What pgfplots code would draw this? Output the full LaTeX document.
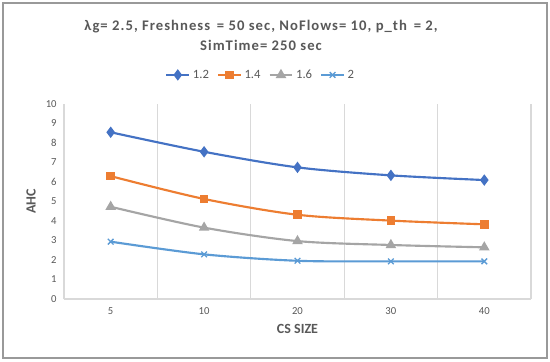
\documentclass[border=0pt]{standalone}
\usepackage{pgfplots}
\pgfplotsset{compat=1.18}
\usepackage{fontspec}
\setmainfont{Carlito}
\definecolor{cA}{HTML}{4472C4}
\definecolor{cB}{HTML}{ED7D31}
\definecolor{cC}{HTML}{A5A5A5}
\definecolor{cD}{HTML}{5B9BD5}
\definecolor{txt}{HTML}{595959}
\definecolor{gridg}{HTML}{D9D9D9}
\begin{document}
\begin{tikzpicture}
\path[use as bounding box] (-48pt,-46.5pt) rectangle (364.5pt,224.25pt);
\fill[white] (-48pt,-46.5pt) rectangle (364.5pt,224.25pt);
\begin{axis}[
  at={(0,0)}, anchor=south west,
  scale only axis, width=350.25pt, height=146.25pt,
  xmin=0.5, xmax=5.5, ymin=0, ymax=10,
  xtick={1,2,3,4,5}, xticklabels={5,10,20,30,40},
  minor xtick={0.5,1.5,2.5,3.5,4.5,5.5},
  ytick={0,1,...,10},
  minor x grid style={gridg, line width=0.8pt},
  xminorgrids=true,
  axis x line*=bottom, axis y line*=left,
  axis line style={-, gridg, line width=0.8pt},
  major tick length=0pt, minor tick length=0pt,
  tick style={draw=none},
  /pgf/number format/assume math mode=true,
  ticklabel style={font=\fontsize{8}{9}\selectfont, text=txt},
  xticklabel style={yshift=-3pt},
  yticklabel style={xshift=-2pt},
  xlabel={\textbf{CS SIZE}},
  label style={font=\fontsize{10.5}{12}\selectfont, text=txt},
  xlabel style={at={(axis description cs:0.5,-0.154)}, anchor=center},
  legend columns=4,
  legend style={at={(0.422,1.149)}, anchor=center, draw=none, fill=none,
    font=\fontsize{9.5}{11}\selectfont, text=txt,
    /tikz/every even column/.append style={column sep=4pt}},
  legend cell align=left,
  every axis plot/.append style={line width=1.6pt, smooth, mark size=2.6pt, mark options={solid}},
]
\addplot[cA, mark=diamond*, mark size=3pt] coordinates {(1,8.55) (2,7.55) (3,6.75) (4,6.34) (5,6.10)};
\addplot[cB, mark=square*, mark size=2.4pt] coordinates {(1,6.30) (2,5.13) (3,4.32) (4,4.02) (5,3.83)};
\addplot[cC, mark=triangle*, mark size=3pt] coordinates {(1,4.73) (2,3.66) (3,2.97) (4,2.77) (5,2.65)};
\addplot[cD, mark=x, mark size=3pt, mark options={line width=1pt}] coordinates {(1,2.94) (2,2.29) (3,1.96) (4,1.93) (5,1.93)};
\legend{1.2,1.4,1.6,2}
\end{axis}
\node[rotate=90, font=\fontsize{10.5}{12}\selectfont\bfseries, text=txt] at (-24.75pt,73.1pt) {AHC};
\node[align=center, font=\fontsize{11}{15}\selectfont\bfseries\addfontfeatures{LetterSpace=7}, text=txt] at (147.75pt,198pt)
  {λg= 2.5, Freshness \,= 50 sec, NoFlows= 10, p\_th \,= 2,\\SimTime= 250 sec};
\draw[color=gray!80, line width=1.1pt] (-45.75pt,-44.25pt) rectangle (362.25pt,222pt);
\end{tikzpicture}
\end{document}
